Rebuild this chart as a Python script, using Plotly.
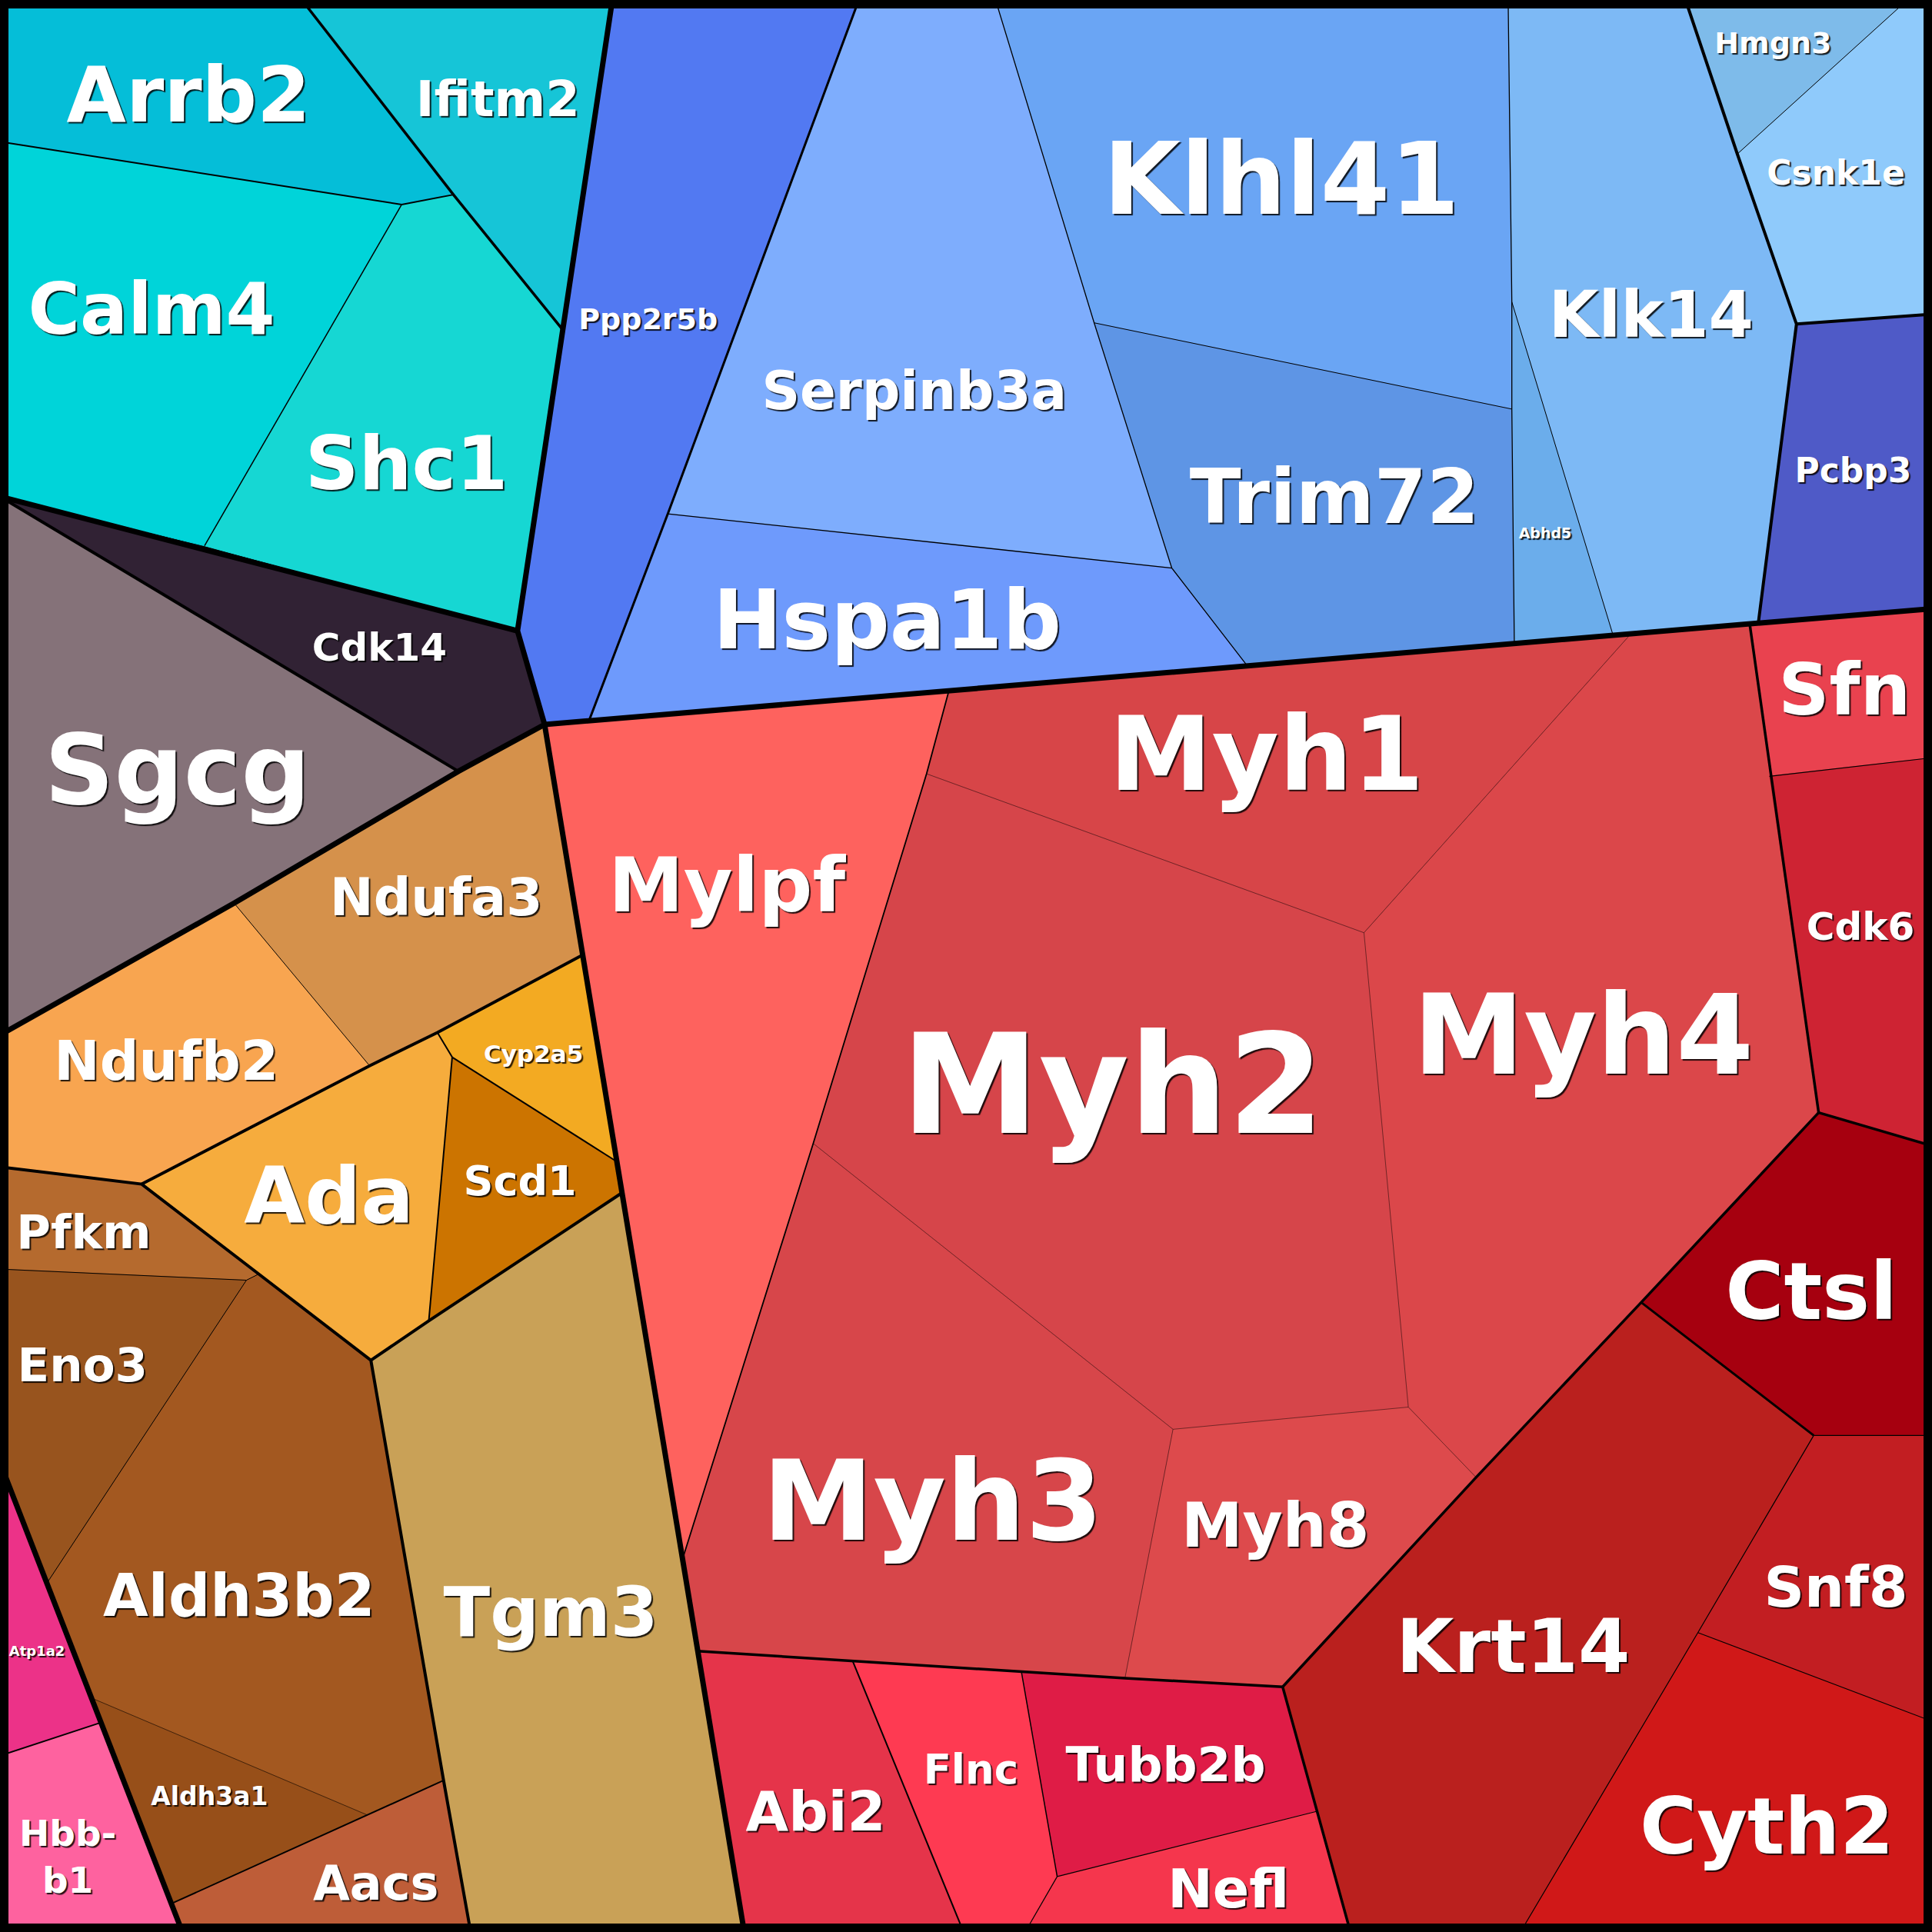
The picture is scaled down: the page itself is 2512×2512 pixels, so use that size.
import plotly.graph_objects as go

# vertices of the voronoi treemap (0..1568 canvas, y down)
points = {
    "TL": (0, 0), "TR": (1568, 0), "BR": (1568, 1568), "BL": (0, 1568),
    "c1": (245, 0), "c2": (497, 0), "c3": (0, 115), "c4": (326, 166), "c5": (368, 158),
    "c6": (457, 268), "c7": (166, 443), "c8": (0, 403), "c9": (420, 512),
    "J": (442, 588), "g2": (372, 626),
    "o1": (190, 733), "o2": (0, 840), "o3": (300, 865), "o4": (355, 838), "o5": (473, 775),
    "o6": (367, 858), "o7": (501, 943), "o8": (505, 968), "o9": (348, 1072), "o10": (301, 1104),
    "o11": (115, 961), "o12": (0, 947),
    "b1": (0, 1030), "b2": (200, 1039), "b3": (210, 1034), "b4": (38, 1285), "b5": (74, 1378),
    "b6": (298, 1473), "b7": (360, 1445), "b8": (139, 1545), "b9": (382, 1568),
    "p1": (0, 1187), "p2": (82, 1398), "p3": (148, 1568), "p4": (0, 1425),
    "bl1": (697, 0), "bl2": (542, 417), "bl3": (478, 585), "bl4": (808, 0), "bl5": (888, 262),
    "bl6": (951, 461), "bl7": (1012, 540), "bl8": (1224, 0), "bl9": (1227, 245), "bl10": (1227, 332),
    "bl11": (1229, 522), "bl12": (1309, 515), "bl13": (1368, 0), "bl14": (1410, 125), "bl15": (1548, 0),
    "bl16": (1458, 263), "bl17": (1568, 255), "bl18": (1427, 506), "bl19": (1568, 494),
    "r1": (770, 561), "r2": (752, 628), "r3": (660, 928), "r4": (555, 1262), "r5": (1324, 514),
    "r6": (1107, 757), "r7": (1420, 506), "r8": (1476, 903), "r9": (1198, 1199), "r10": (1143, 1142),
    "r11": (952, 1160), "r12": (913, 1362), "r13": (566, 1340), "r14": (1041, 1369), "r15": (692, 1348),
    "r16": (829, 1357), "r17": (858, 1523), "r18": (832, 1568), "r19": (782, 1568), "r20": (1069, 1470),
    "r21": (1096, 1568), "r22": (1332, 1057), "r23": (1568, 930), "r24": (1568, 1165), "r25": (1472, 1165),
    "r26": (1378, 1325), "r27": (1568, 1397), "r28": (1234, 1568), "r29": (1436, 630), "r30": (1568, 615),
    "rb": (604, 1568),
}

genes = ["Arrb2", "Ifitm2", "Calm4", "Shc1", "Cdk14", "Sgcg",
         "Ndufa3", "Ndufb2", "Cyp2a5", "Scd1", "Ada", "Tgm3",
         "Pfkm", "Eno3", "Aldh3b2", "Aldh3a1", "Aacs", "Atp1a2", "Hbb-b1",
         "Ppp2r5b", "Serpinb3a", "Hspa1b", "Klhl41", "Trim72", "Klk14", "Abhd5",
         "Hmgn3", "Csnk1e", "Pcbp3",
         "Mylpf", "Myh1", "Myh2", "Myh4", "Myh3", "Myh8", "Abi2", "Flnc", "Tubb2b",
         "Nefl", "Krt14", "Ctsl", "Snf8", "Cyth2", "Sfn", "Cdk6"]

cells = {
    "Arrb2": "TL c1 c5 c4 c3", "Ifitm2": "c1 c2 c6 c5", "Calm4": "c3 c4 c7 c8",
    "Shc1": "c4 c5 c6 c9 c7", "Cdk14": "c8 c9 J g2", "Sgcg": "c8 g2 o1 o2",
    "Ndufa3": "J o5 o4 o3 o1 g2", "Ndufb2": "o2 o1 o3 o11 o12", "Cyp2a5": "o4 o5 o7 o6",
    "Scd1": "o6 o7 o8 o9", "Ada": "o11 o3 o4 o6 o9 o10 b3", "Tgm3": "o10 o9 o8 rb b9 b7",
    "Pfkm": "o12 o11 b3 b2 b1", "Eno3": "b1 b2 b4 p1", "Aldh3b2": "b2 b3 o10 b7 b6 b5 b4",
    "Aldh3a1": "b5 b6 b8", "Aacs": "b8 b6 b7 b9 p3", "Atp1a2": "p1 p2 p4",
    "Hbb-b1": "p4 p2 b8 p3 BL",
    "Ppp2r5b": "c2 bl1 bl2 bl3 J c9 c6", "Serpinb3a": "bl1 bl4 bl5 bl6 bl2",
    "Hspa1b": "bl2 bl6 bl7 bl3", "Klhl41": "bl4 bl8 bl9 bl10 bl5",
    "Trim72": "bl5 bl10 bl11 bl7 bl6", "Abhd5": "bl9 bl12 bl11 bl10",
    "Klk14": "bl8 bl13 bl14 bl16 bl18 bl12 bl9", "Hmgn3": "bl13 bl15 bl14",
    "Csnk1e": "bl15 TR bl17 bl16 bl14", "Pcbp3": "bl16 bl17 bl19 bl18",
    "Mylpf": "J r1 r2 r3 r4", "Myh1": "r1 r5 r6 r2", "Myh2": "r2 r6 r10 r11 r3",
    "Myh4": "r5 r7 r8 r9 r10 r6", "Myh3": "r3 r11 r12 r13 r4", "Myh8": "r11 r10 r9 r14 r12",
    "Abi2": "r13 r15 r19 rb", "Flnc": "r15 r16 r17 r18 r19", "Tubb2b": "r16 r12 r14 r20 r17",
    "Nefl": "r17 r20 r21 r18", "Krt14": "r14 r9 r22 r25 r26 r28 r21 r20",
    "Ctsl": "r22 r8 r23 r24 r25", "Snf8": "r25 r24 r27 r26", "Cyth2": "r26 r27 BR r28",
    "Sfn": "r7 bl19 r30 r29", "Cdk6": "r29 r30 r23 r8",
}

colors = {
    "Arrb2": "#05BED8", "Ifitm2": "#16C5D7", "Calm4": "#00D4D9", "Shc1": "#16D7D3",
    "Cdk14": "#312234", "Sgcg": "#857279",
    "Ndufa3": "#D5914B", "Ndufb2": "#F8A550", "Cyp2a5": "#F3AA22", "Scd1": "#CC7400",
    "Ada": "#F6AC3D", "Tgm3": "#C9A157",
    "Pfkm": "#B56A2E", "Eno3": "#98541E", "Aldh3b2": "#A35820", "Aldh3a1": "#974F19",
    "Aacs": "#BE5D38", "Atp1a2": "#EC3288", "Hbb-b1": "#FE629F",
    "Ppp2r5b": "#5279F2", "Serpinb3a": "#7EADFD", "Hspa1b": "#6E9AFC", "Klhl41": "#6AA5F4",
    "Trim72": "#5E95E5", "Klk14": "#7DB9F5", "Abhd5": "#6BADEB", "Hmgn3": "#7EBBEA",
    "Csnk1e": "#8FCAFB", "Pcbp3": "#4F5AC7",
    "Mylpf": "#FE625E", "Myh1": "#D74548", "Myh2": "#D6454A", "Myh4": "#DB474A",
    "Myh3": "#D7464A", "Myh8": "#DD4A4C", "Abi2": "#E5344A", "Flnc": "#FE3A52",
    "Tubb2b": "#DF1C46", "Nefl": "#F5364D", "Krt14": "#BA201E", "Ctsl": "#A6000F",
    "Snf8": "#C21E22", "Cyth2": "#D01818", "Sfn": "#E9424F", "Cdk6": "#CE2333",
}

# label centre and font size (px)
labels = {
    "Arrb2": (153, 77, 100), "Ifitm2": (404, 80, 64), "Calm4": (123, 251, 92),
    "Shc1": (330, 376, 97), "Cdk14": (308, 525, 50), "Sgcg": (144, 625, 126),
    "Ndufa3": (354, 728, 68), "Ndufb2": (135, 861, 71), "Cyp2a5": (433, 855, 31),
    "Scd1": (422, 958, 54), "Ada": (267, 970, 102), "Tgm3": (447, 1308, 89),
    "Pfkm": (68, 1000, 61), "Eno3": (67, 1108, 61), "Aldh3b2": (194, 1295, 76),
    "Aldh3a1": (170, 1458, 33), "Aacs": (305, 1528, 62), "Atp1a2": (30, 1340, 18),
    "Hbb-b1": (55, 1507, 47),
    "Ppp2r5b": (526, 259, 38), "Serpinb3a": (742, 317, 69), "Hspa1b": (720, 503, 107),
    "Klhl41": (1040, 145, 130), "Trim72": (1083, 403, 98), "Klk14": (1340, 255, 84),
    "Abhd5": (1254, 433, 19), "Hmgn3": (1439, 35, 38), "Csnk1e": (1490, 140, 44),
    "Pcbp3": (1504, 382, 44),
    "Mylpf": (590, 718, 98), "Myh1": (1028, 612, 134), "Myh2": (903, 880, 180),
    "Myh4": (1285, 840, 145), "Myh3": (757, 1218, 145), "Myh8": (1035, 1238, 80),
    "Abi2": (662, 1470, 72), "Flnc": (788, 1436, 53), "Tubb2b": (946, 1432, 63),
    "Nefl": (997, 1533, 70), "Krt14": (1228, 1336, 97), "Ctsl": (1470, 1048, 104),
    "Snf8": (1490, 1288, 73), "Cyth2": (1434, 1482, 101), "Sfn": (1497, 560, 92),
    "Cdk6": (1510, 752, 50),
}
label_text = {"Hbb-b1": "Hbb-<br>b1"}

# borders: vertex path, width (px), colour
edges = [
    ("TL TR BR BL TL", 22, "black"),
    ("c8 c9", 7, "black"), ("c2 c6 c9 J", 7, "black"), ("J g2 o1 o2", 7, "black"),
    ("J bl19", 7, "black"), ("J rb", 7, "black"), ("p1 p3", 7, "black"),
    ("c1 c5 c6", 3.5, "black"), ("c8 g2", 4, "black"),
    ("o12 o11 b3 o10 b7 b9", 4, "black"), ("o10 o9 o8", 4, "black"), ("o11 o3 o4 o5", 4, "black"),
    ("bl1 bl2 bl3", 3, "black"), ("bl13 bl14 bl16 bl18", 4, "black"), ("bl16 bl17", 4, "black"),
    ("r13 r15 r16 r12 r14", 3.5, "black"), ("r14 r9 r22 r8", 3.5, "black"),
    ("r14 r20 r21", 3.5, "black"), ("r22 r25", 3, "black"), ("r8 r23", 3.5, "black"),
    ("r7 r8", 3.5, "black"),
    ("c3 c4 c5", 2, "black"), ("c4 c7", 1.5, "black"), ("o4 o6 o9", 2, "black"),
    ("o6 o7", 2, "black"), ("o1 o3", 1, "black"), ("b8 b6 b7", 2, "black"), ("p4 p2", 2, "black"),
    ("b1 b2 b3", 1, "black"), ("b2 b4", 1, "black"), ("b5 b6", 0.8, "rgba(0,0,0,0.7)"),
    ("bl4 bl5 bl6", 1.3, "black"), ("bl2 bl6 bl7", 1.3, "black"), ("bl5 bl10", 1, "black"),
    ("bl8 bl9 bl10 bl11", 1.3, "black"), ("bl9 bl12", 1, "black"), ("bl14 bl15", 1, "black"),
    ("r1 r2 r3 r4", 1.8, "black"), ("r15 r19", 2, "black"), ("r16 r17", 1.5, "black"),
    ("r17 r20", 1.2, "black"), ("r17 r18", 1.2, "black"), ("r25 r24", 1.2, "black"),
    ("r25 r26 r28", 1.2, "black"), ("r26 r27", 1.2, "black"), ("r29 r30", 1.2, "black"),
    ("r2 r6 r10 r9", 0.8, "rgba(0,0,0,0.6)"), ("r5 r6", 0.8, "rgba(0,0,0,0.6)"),
    ("r3 r11 r10", 0.8, "rgba(0,0,0,0.6)"), ("r11 r12", 0.8, "rgba(0,0,0,0.6)"),
]

fig = go.Figure()

for g in genes:
    ids = cells[g].split()
    fig.add_trace(go.Scatter(
        x=[points[i][0] for i in ids], y=[points[i][1] for i in ids],
        fill="toself", fillcolor=colors[g], mode="lines",
        line=dict(color=colors[g], width=1), hoverinfo="text", text=g,
        showlegend=False,
    ))

for path, w, col in edges:
    ids = path.split()
    fig.add_trace(go.Scatter(
        x=[points[i][0] for i in ids], y=[points[i][1] for i in ids],
        mode="lines", line=dict(color=col, width=w),
        hoverinfo="skip", showlegend=False,
    ))

# plotly centres the whole text box; nudge down so the caps sit on the centre
fig.add_trace(go.Scatter(
    x=[labels[g][0] for g in genes],
    y=[labels[g][1] + 0.1 * labels[g][2] / 1.602 for g in genes],
    text=[label_text.get(g, g) for g in genes],
    mode="text", textposition="middle center",
    textfont=dict(family="DejaVu Sans", size=[labels[g][2] for g in genes], color="white",
                  weight="bold", shadow="2px 2px 1px rgba(0,0,0,0.85)"),
    hoverinfo="skip", showlegend=False,
))

fig.update_layout(
    width=2512, height=2512,
    margin=dict(l=0, r=0, t=0, b=0),
    paper_bgcolor="black", plot_bgcolor="black",
    xaxis=dict(range=[0, 1568], visible=False, fixedrange=True),
    yaxis=dict(range=[1568, 0], visible=False, fixedrange=True),
)

fig.write_html("out.html", config={"displayModeBar": False},
               post_script="document.body.style.margin='0';")
